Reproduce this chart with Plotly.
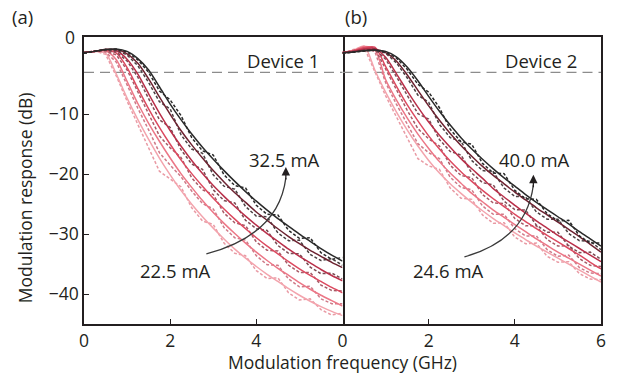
import plotly.graph_objects as go

# ---------------- data ----------------
FREQ = [0, 0.25, 0.5, 0.75, 1.0, 1.25, 1.5, 1.75, 2.0, 2.25, 2.5, 2.75, 3.0,
        3.25, 3.5, 3.75, 4.0, 4.25, 4.5, 4.75, 5.0, 5.25, 5.5, 5.75, 6.0]

# Device 1 fits (low current -> high current)
A_FIT_1 = [0.3, 0.5, 0.2, -3.3, -7.3, -10.9, -14.2, -17.3, -20.1, -22.7, -25, -27.1, -29, -30.8, -32.5, -34, -35.4, -36.7, -37.9, -39.1, -40.2, -41.2, -42.1, -42.9, -43.6]
A_FIT_2 = [0.3, 0.5, 0.6, -0.9, -4.5, -8.2, -11.5, -14.5, -17.3, -19.9, -22.2, -24.4, -26.4, -28.2, -29.9, -31.5, -33, -34.4, -35.7, -36.9, -38.1, -39.2, -40.2, -41.1, -42]
A_FIT_3 = [0.3, 0.5, 0.7, 0.2, -2.2, -5.7, -9.1, -12.2, -15, -17.6, -19.9, -22, -24, -25.8, -27.5, -29.1, -30.6, -32, -33.3, -34.6, -35.8, -36.9, -37.9, -38.9, -39.8]
A_FIT_4 = [0.3, 0.5, 0.8, 0.6, -0.8, -3.3, -6.6, -9.8, -12.7, -15.3, -17.7, -19.9, -21.9, -23.7, -25.4, -27, -28.5, -29.9, -31.2, -32.5, -33.7, -34.8, -35.9, -36.9, -37.8]
A_FIT_5 = [0.3, 0.5, 0.8, 0.8, 0.1, -1.5, -4.1, -7.1, -10, -12.7, -15.1, -17.3, -19.4, -21.3, -23.1, -24.7, -26.3, -27.7, -29.1, -30.4, -31.6, -32.7, -33.7, -34.7, -35.6]
A_FIT_6 = [0.3, 0.5, 0.8, 0.9, 0.5, -0.7, -2.6, -5.4, -8.3, -10.9, -13.3, -15.5, -17.5, -19.4, -21.2, -22.9, -24.5, -26, -27.4, -28.7, -30, -31.2, -32.4, -33.5, -34.5]

# Device 1 measured
A_MEAS_1 = [0.2, 0.6, 0.0, -3.6, -7.8, -11.6, -15.6, -19.5, -20.8, -22.1, -25.6, -27.8, -28.4, -31.5, -33.2, -33.6, -36.1, -37.4, -37.3, -39.8, -41, -40.8, -42.6, -43.5, -43.2]
A_MEAS_2 = [0.2, 0.6, 0.4, -1.3, -5.1, -9.0, -12.6, -16.4, -18.5, -20.4, -22.8, -24.9, -25.8, -28.9, -30.6, -31.0, -33.6, -35.1, -35.2, -37.5, -38.8, -38.7, -40.8, -41.6, -41.6]
A_MEAS_3 = [0.2, 0.6, 0.6, -0.1, -2.6, -6.3, -10.1, -13.6, -15.6, -17.2, -20.6, -22.6, -23.4, -26.5, -28.1, -28.6, -31.3, -32.7, -32.8, -35.2, -36.4, -36.4, -38.5, -39.4, -39.5]
A_MEAS_4 = [0.2, 0.6, 0.7, 0.4, -1.1, -3.8, -7.4, -10.9, -12.2, -15.9, -18.3, -19.2, -22.6, -24.4, -24.8, -27.7, -29.1, -29.4, -31.9, -33.2, -33.3, -35.5, -36.6, -36.5, -37.5]
A_MEAS_5 = [0.2, 0.5, 0.8, 0.7, -0.1, -1.9, -4.7, -7.9, -9.1, -13.4, -15.8, -16.5, -20.1, -22, -22.5, -25.4, -27, -27.1, -29.8, -31.1, -31, -33.4, -34.4, -34.1, -35.2]
A_MEAS_6 = [0.2, 0.5, 0.8, 0.9, 0.4, -0.9, -3.0, -6.1, -7.6, -10.2, -13.9, -16.1, -16.8, -20.1, -21.9, -22.3, -25.2, -26.7, -26.8, -29.4, -30.7, -30.6, -33.1, -34.2, -33.9]

# Device 2 fits
B_FIT_1 = [0.3, 0.7, 1.4, -2.6, -6.3, -9.6, -12.6, -15.3, -17.7, -19.8, -21.6, -23.2, -24.7, -26.1, -27.4, -28.6, -29.8, -30.9, -32, -33, -34, -35, -36, -37, -38]
B_FIT_2 = [0.3, 0.6, 1.3, 0.8, -4.2, -7.6, -10.6, -13.3, -15.7, -17.9, -19.8, -21.5, -23.2, -24.6, -26, -27.2, -28.4, -29.6, -30.8, -31.9, -33, -34, -35, -36, -37]
B_FIT_3 = [0.3, 0.6, 1.1, 1.2, -2.0, -5.3, -8.4, -11.1, -13.6, -15.8, -17.8, -19.6, -21.2, -22.7, -24.1, -25.4, -26.7, -27.9, -29.1, -30.2, -31.3, -32.4, -33.5, -34.7, -35.8]
B_FIT_4 = [0.3, 0.5, 0.9, 1.0, -0.5, -3.2, -6.1, -8.8, -11.3, -13.5, -15.5, -17.4, -19.1, -20.7, -22.4, -23.8, -25.2, -26.5, -27.8, -29, -30.2, -31.3, -32.4, -33.5, -34.6]
B_FIT_5 = [0.3, 0.4, 0.7, 0.8, 0.3, -1.1, -3.4, -6, -8.6, -11, -13.2, -15.2, -17, -18.7, -20.2, -21.6, -23, -24.3, -25.6, -26.8, -28, -29.2, -30.4, -31.7, -33]
B_FIT_6 = [0.3, 0.4, 0.6, 0.7, 0.5, -0.4, -2.1, -4.4, -7, -9.5, -11.8, -13.9, -15.8, -17.5, -19.1, -20.6, -22, -23.4, -24.7, -25.9, -27.1, -28.3, -29.6, -30.8, -32]

# Device 2 measured
B_MEAS_1 = [0.2, 0.8, 1.2, -3.0, -6.9, -10.4, -13.9, -17.4, -18.6, -19.2, -22.3, -24.0, -24.2, -26.8, -28.2, -28.1, -30.5, -31.6, -31.5, -33.7, -34.7, -34.6, -36.6, -37.5, -37.6]
B_MEAS_2 = [0.2, 0.7, 1.1, 0.5, -4.7, -8.3, -11.6, -14.9, -16.4, -17.4, -20.5, -22.2, -22.6, -25.3, -26.7, -26.7, -29.1, -30.3, -30.3, -32.6, -33.7, -33.5, -35.6, -36.5, -36.6]
B_MEAS_3 = [0.2, 0.6, 1.0, 1.0, -2.4, -6.0, -9.3, -12.4, -14.1, -15.3, -18.5, -20.2, -20.6, -23.4, -24.8, -24.9, -27.4, -28.6, -28.6, -30.9, -32.0, -31.9, -34.1, -35.2, -35.4]
B_MEAS_4 = [0.2, 0.5, 0.8, 0.9, -0.8, -3.7, -6.9, -9.9, -10.8, -14.2, -16.2, -16.8, -19.8, -21.4, -21.8, -24.5, -25.9, -26, -28.5, -29.7, -29.7, -32, -33.1, -33, -34.2]
B_MEAS_5 = [0.2, 0.4, 0.7, 0.8, 0.2, -1.4, -3.9, -6.8, -8.0, -11.7, -13.9, -14.5, -17.7, -19.4, -19.6, -22.3, -23.7, -23.8, -26.3, -27.5, -27.5, -29.9, -31.1, -31.2, -32.6]
B_MEAS_6 = [0.2, 0.4, 0.6, 0.7, 0.4, -0.6, -2.5, -5.0, -6.3, -8.9, -12.5, -14.6, -15.0, -18.2, -19.8, -19.9, -22.7, -24.1, -24.2, -26.6, -27.8, -27.7, -30.3, -31.5, -31.5]

THRESHOLD_DB = -3
Y_TICKS = [-10, -20, -30, -40]
X_TICKS_A = [0, 2, 4]
X_TICKS_B = [0, 2, 4, 6]
CURRENTS_A = ["22.5 mA", "32.5 mA"]
CURRENTS_B = ["24.6 mA", "40.0 mA"]

FIT_COLORS = ["#f3a4ad", "#ec7787", "#dc4a60", "#b9304a", "#6e2331", "#2a2a2a"]
MEAS_COLORS = ["#e99aa4", "#cf7a88", "#a85a66", "#7a4a52", "#4a4042", "#2a2a2a"]

FONT = "Open Sans"
INK = "#231f20"
fig = go.Figure()

a_fit = [A_FIT_1, A_FIT_2, A_FIT_3, A_FIT_4, A_FIT_5, A_FIT_6]
a_meas = [A_MEAS_1, A_MEAS_2, A_MEAS_3, A_MEAS_4, A_MEAS_5, A_MEAS_6]
b_fit = [B_FIT_1, B_FIT_2, B_FIT_3, B_FIT_4, B_FIT_5, B_FIT_6]
b_meas = [B_MEAS_1, B_MEAS_2, B_MEAS_3, B_MEAS_4, B_MEAS_5, B_MEAS_6]

for fits, meas, xa, ya in [(a_fit, a_meas, "x", "y"), (b_fit, b_meas, "x2", "y2")]:
    for i in range(6):
        fig.add_trace(go.Scatter(x=FREQ, y=meas[i], xaxis=xa, yaxis=ya, mode="lines",
                                 line=dict(color=MEAS_COLORS[i], width=1.5, dash="3px,2px"),
                                 showlegend=False, hoverinfo="skip"))
        fig.add_trace(go.Scatter(x=FREQ, y=fits[i], xaxis=xa, yaxis=ya, mode="lines",
                                 line=dict(color=FIT_COLORS[i], width=1.5, shape="spline", smoothing=0.8),
                                 showlegend=False, hoverinfo="skip"))

axis_common = dict(showline=True, linecolor=INK, linewidth=1.5, mirror=True,
                   ticks="inside", ticklen=5, tickcolor=INK, tickwidth=1.2,
                   showgrid=False, zeroline=False,
                   tickfont=dict(family=FONT, size=17.5, color=INK))

fig.update_layout(
    width=618, height=374,
    margin=dict(l=84, r=12, t=37, b=50),
    plot_bgcolor="white", paper_bgcolor="white",
    xaxis=dict(domain=[0, 0.5], range=[0, 6], tickvals=X_TICKS_A, anchor="y", **axis_common),
    xaxis2=dict(domain=[0.5, 1], range=[0, 6], tickvals=X_TICKS_B, anchor="y2", **axis_common),
    yaxis=dict(domain=[0, 1], range=[-45, 2.9], tickvals=Y_TICKS, anchor="x", **axis_common),
    yaxis2=dict(domain=[0, 1], range=[-45, 2.9], tickvals=Y_TICKS, anchor="x2",
                **{**axis_common, "ticks": "", "showticklabels": False, "mirror": False, "side": "right"}),
)

# -3 dB reference lines
for xr, yr in [("x", "y"), ("x2", "y2")]:
    fig.add_shape(type="line", xref=xr, yref=yr, x0=0, x1=6, y0=THRESHOLD_DB, y1=THRESHOLD_DB,
                  line=dict(color="#8c8c8c", width=1.3, dash="10px,6px"), layer="below")

# curved arrows
fig.add_shape(type="path", xref="x", yref="y", path="M 2.84,-33.3 Q 4.52,-30.1 4.685,-20.6",
              line=dict(color="#3a3a3a", width=1.3))
fig.add_shape(type="path", xref="x2", yref="y2", path="M 2.83,-33.8 Q 4.27,-30.9 4.43,-21.8",
              line=dict(color="#3a3a3a", width=1.3))

txt = dict(family=FONT, size=18.5, color=INK)
ann = [
    dict(x=4.685, y=-18.8, xref="x", yref="y", ax=0, ay=14, showarrow=True, arrowhead=2,
         arrowsize=1.3, arrowwidth=1.3, arrowcolor=INK, text=""),
    dict(x=4.43, y=-20.1, xref="x2", yref="y2", ax=0, ay=14, showarrow=True, arrowhead=2,
         arrowsize=1.3, arrowwidth=1.3, arrowcolor=INK, text=""),
    dict(x=4.66, y=-17.6, xref="x", yref="y", text=CURRENTS_A[1], showarrow=False, font=txt),
    dict(x=2.12, y=-36.1, xref="x", yref="y", text=CURRENTS_A[0], showarrow=False, font=txt),
    dict(x=4.45, y=-17.6, xref="x2", yref="y2", text=CURRENTS_B[1], showarrow=False, font=txt),
    dict(x=2.46, y=-36.1, xref="x2", yref="y2", text=CURRENTS_B[0], showarrow=False, font=txt),
    dict(x=5.49, y=-0.95, xref="x", yref="y", text="Device 1", showarrow=False, font=txt, xanchor="right"),
    dict(x=5.48, y=-0.95, xref="x2", yref="y2", text="Device 2", showarrow=False, font=txt, xanchor="right"),
    dict(x=-0.027, y=1.0, xref="paper", yref="paper", text="0", showarrow=False, font=dict(family=FONT, size=17.5, color=INK),
         xanchor="center", yanchor="middle"),
    dict(x=-0.119, y=1.0, xref="paper", yref="paper", text="(a)", showarrow=False, font=txt, xanchor="center", yanchor="bottom", yshift=6),
    dict(x=0.5, y=1.0, xref="paper", yref="paper", text="(b)", showarrow=False, font=txt, xanchor="left", yanchor="bottom", yshift=6),
    dict(x=0.5, y=0, xref="paper", yref="paper", text="Modulation frequency (GHz)", showarrow=False,
         font=dict(family=FONT, size=17.5, color=INK), xanchor="center", yanchor="middle", yshift=-38),
    dict(x=-0.115, y=0.44, xref="paper", yref="paper", text="Modulation response (dB)", showarrow=False,
         font=dict(family=FONT, size=17.5, color=INK), textangle=-90, xanchor="center", yanchor="middle"),
]
fig.update_layout(annotations=ann)

fig.write_html("out.html")
